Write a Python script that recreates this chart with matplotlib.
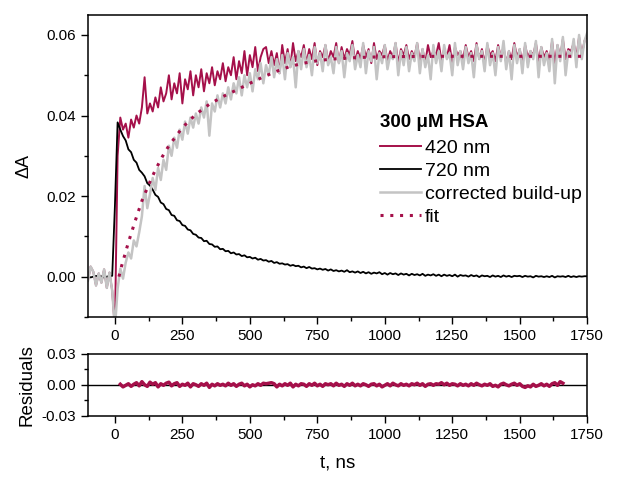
import matplotlib
matplotlib.use("Agg")
import matplotlib.pyplot as plt
from matplotlib.ticker import MultipleLocator
import numpy as np

plt.rcParams['font.family'] = ['Liberation Sans', 'DejaVu Sans']

# sampling grid of the transients (ns)
t_ns = np.arange(-100, 1751, 10)

abs_720 = [
    0.0001, -0.0002, 0.0000, 0.0002, -0.0001, 0.0001, -0.0002, 0.0000, 0.0001, 0.0002,
    0.0175, 0.0383, 0.0365, 0.0349, 0.0338, 0.0316, 0.0309, 0.0290, 0.0283, 0.0265,
    0.0258, 0.0249, 0.0232, 0.0226, 0.0216, 0.0203, 0.0198, 0.0184, 0.0180, 0.0168,
    0.0165, 0.0153, 0.0151, 0.0140, 0.0138, 0.0128, 0.0126, 0.0117, 0.0115, 0.0106,
    0.0104, 0.0097, 0.0096, 0.0088, 0.0089, 0.0081, 0.0080, 0.0074, 0.0075, 0.0068,
    0.0069, 0.0063, 0.0064, 0.0058, 0.0060, 0.0055, 0.0056, 0.0051, 0.0053, 0.0048,
    0.0049, 0.0045, 0.0047, 0.0042, 0.0044, 0.0040, 0.0041, 0.0037, 0.0039, 0.0034,
    0.0036, 0.0032, 0.0033, 0.0030, 0.0031, 0.0027, 0.0029, 0.0026, 0.0027, 0.0023,
    0.0025, 0.0021, 0.0024, 0.0020, 0.0021, 0.0018, 0.0020, 0.0017, 0.0019, 0.0015,
    0.0018, 0.0014, 0.0016, 0.0013, 0.0015, 0.0012, 0.0016, 0.0011, 0.0013, 0.0010,
    0.0013, 0.0009, 0.0012, 0.0008, 0.0011, 0.0007, 0.0010, 0.0008, 0.0011, 0.0006,
    0.0009, 0.0005, 0.0009, 0.0006, 0.0008, 0.0004, 0.0008, 0.0005, 0.0007, 0.0003,
    0.0007, 0.0004, 0.0006, 0.0003, 0.0007, 0.0002, 0.0005, 0.0003, 0.0006, 0.0002,
    0.0005, 0.0001, 0.0005, 0.0002, 0.0004, 0.0001, 0.0005, 0.0000, 0.0004, 0.0002,
    0.0003, 0.0000, 0.0004, 0.0001, 0.0003, -0.0001, 0.0003, 0.0001, 0.0002, -0.0001,
    0.0003, 0.0000, 0.0002, -0.0001, 0.0003, 0.0000, 0.0002, -0.0001, 0.0002, 0.0001,
    0.0002, -0.0001, 0.0002, 0.0000, 0.0001, -0.0002, 0.0002, 0.0000, 0.0001, -0.0001,
    0.0001, -0.0001, 0.0002, -0.0002, 0.0001, 0.0000, 0.0001, -0.0001, 0.0002, -0.0001,
    0.0001, -0.0001, 0.0001, 0.0000, 0.0001, 0.0001,
]

corrected = [
    -0.0010, 0.0025, 0.0012, -0.0022, 0.0008, -0.0015, 0.0018, -0.0028, 0.0010, -0.0035,
    -0.0130, -0.0030, 0.0020, -0.0005, 0.0035, 0.0060, 0.0045, 0.0090, 0.0075, 0.0110,
    0.0150, 0.0225, 0.0170, 0.0205, 0.0245, 0.0215, 0.0270, 0.0240, 0.0290, 0.0265,
    0.0325, 0.0300, 0.0345, 0.0320, 0.0365, 0.0340, 0.0385, 0.0355, 0.0395, 0.0370,
    0.0405, 0.0380, 0.0420, 0.0395, 0.0435, 0.0350, 0.0430, 0.0410, 0.0450, 0.0420,
    0.0455, 0.0430, 0.0470, 0.0440, 0.0480, 0.0455, 0.0495, 0.0450, 0.0500, 0.0470,
    0.0505, 0.0460, 0.0515, 0.0490, 0.0530, 0.0480, 0.0525, 0.0500, 0.0545, 0.0495,
    0.0540, 0.0505, 0.0550, 0.0490, 0.0555, 0.0520, 0.0545, 0.0470, 0.0560, 0.0515,
    0.0565, 0.0520, 0.0550, 0.0500, 0.0570, 0.0530, 0.0555, 0.0510, 0.0575, 0.0525,
    0.0545, 0.0505, 0.0570, 0.0530, 0.0560, 0.0495, 0.0555, 0.0535, 0.0575, 0.0515,
    0.0550, 0.0520, 0.0580, 0.0505, 0.0560, 0.0535, 0.0570, 0.0490, 0.0555, 0.0530,
    0.0575, 0.0515, 0.0550, 0.0540, 0.0580, 0.0500, 0.0560, 0.0525, 0.0570, 0.0510,
    0.0555, 0.0535, 0.0580, 0.0505, 0.0565, 0.0520, 0.0550, 0.0490, 0.0575, 0.0530,
    0.0560, 0.0510, 0.0575, 0.0540, 0.0555, 0.0500, 0.0580, 0.0525, 0.0560, 0.0515,
    0.0570, 0.0530, 0.0555, 0.0495, 0.0575, 0.0540, 0.0560, 0.0510, 0.0580, 0.0525,
    0.0555, 0.0500, 0.0570, 0.0535, 0.0585, 0.0515, 0.0560, 0.0490, 0.0575, 0.0530,
    0.0565, 0.0505, 0.0580, 0.0520, 0.0560, 0.0540, 0.0585, 0.0495, 0.0570, 0.0525,
    0.0555, 0.0510, 0.0590, 0.0480, 0.0575, 0.0535, 0.0595, 0.0500, 0.0560, 0.0545,
    0.0590, 0.0520, 0.0600, 0.0540, 0.0585, 0.0605,
]

abs_420 = [
    -0.0010, 0.0025, 0.0012, -0.0022, 0.0008, -0.0015, 0.0018, -0.0028, 0.0010, -0.0035,
    -0.0130, 0.0300, 0.0395, 0.0365, 0.0380, 0.0345, 0.0390, 0.0370, 0.0400, 0.0380,
    0.0420, 0.0495, 0.0405, 0.0430, 0.0410, 0.0445, 0.0420, 0.0470, 0.0435, 0.0455,
    0.0500, 0.0440, 0.0480, 0.0455, 0.0505, 0.0430, 0.0490, 0.0465, 0.0510, 0.0450,
    0.0500, 0.0470, 0.0515, 0.0460, 0.0505, 0.0480, 0.0520, 0.0475, 0.0510, 0.0490,
    0.0530, 0.0485, 0.0520, 0.0500, 0.0545, 0.0490, 0.0535, 0.0505, 0.0560, 0.0500,
    0.0550, 0.0520, 0.0570, 0.0510, 0.0545, 0.0565, 0.0570, 0.0530, 0.0560, 0.0525,
    0.0555, 0.0505, 0.0575, 0.0530, 0.0565, 0.0520, 0.0580, 0.0535, 0.0560, 0.0545,
    0.0575, 0.0530, 0.0565, 0.0540, 0.0580, 0.0525, 0.0560, 0.0545, 0.0575, 0.0535,
    0.0560, 0.0545, 0.0580, 0.0530, 0.0570, 0.0540, 0.0565, 0.0550, 0.0585, 0.0535,
    0.0560, 0.0540, 0.0575, 0.0545, 0.0565, 0.0530, 0.0580, 0.0540, 0.0560, 0.0550,
    0.0575, 0.0535, 0.0560, 0.0545, 0.0580, 0.0530, 0.0565, 0.0550, 0.0575, 0.0540,
    0.0560, 0.0545, 0.0580, 0.0535, 0.0565, 0.0530, 0.0575, 0.0545, 0.0560, 0.0550,
    0.0580, 0.0535, 0.0565, 0.0545, 0.0575, 0.0530, 0.0570, 0.0550, 0.0560, 0.0540,
    0.0575, 0.0545, 0.0560, 0.0535, 0.0580, 0.0540, 0.0565, 0.0530, 0.0575, 0.0550,
    0.0560, 0.0535, 0.0575, 0.0545, 0.0570, 0.0530, 0.0560, 0.0540, 0.0580, 0.0545,
    0.0565, 0.0530, 0.0575, 0.0545, 0.0560, 0.0550, 0.0580, 0.0535, 0.0570, 0.0545,
    0.0560, 0.0535, 0.0585, 0.0530, 0.0575, 0.0545, 0.0590, 0.0540, 0.0565, 0.0560,
    0.0580, 0.0545, 0.0595, 0.0550, 0.0585, 0.0600,
]

# fitted build-up
fit_t = [15, 25, 50, 75, 100, 125, 150, 175, 200, 250, 300, 350, 400, 450,
         500, 550, 600, 650, 700, 750, 800, 900, 1000, 1200, 1500, 1750]
fit_y = [0.0, 0.0027, 0.0085, 0.0138, 0.0188, 0.0228, 0.0265, 0.0297, 0.0325,
         0.0370, 0.0403, 0.0428, 0.0447, 0.0463, 0.0480, 0.0496, 0.0510, 0.0522,
         0.0530, 0.0536, 0.0540, 0.0544, 0.0546, 0.0547, 0.0547, 0.0547]

# residuals of the fit, 20..1660 ns
res_t = np.arange(20, 1661, 10)
residuals = [
    0.0005, -0.0020, -0.0005, 0.0010, -0.0015, 0.0005, 0.0020, -0.0010,
    0.0030, 0.0000, -0.0015, 0.0025, 0.0005, 0.0020, -0.0020, 0.0010, -0.0005, 0.0015,
    0.0025, -0.0010, 0.0010, 0.0020, -0.0015, 0.0005, -0.0005, 0.0015, -0.0020, 0.0010,
    0.0000, -0.0015, 0.0010, -0.0005, 0.0015, -0.0025, 0.0005, -0.0010, 0.0010, -0.0005,
    0.0005, -0.0010, 0.0015, -0.0005, 0.0010, -0.0015, 0.0005, 0.0015, -0.0010, 0.0005,
    -0.0020, 0.0000, -0.0010, 0.0010, -0.0005, 0.0015, 0.0010, 0.0015, 0.0020, 0.0010,
    -0.0020, 0.0005, -0.0010, 0.0010, -0.0005, 0.0015, -0.0020, 0.0005, -0.0010, 0.0010,
    0.0005, -0.0015, 0.0010, -0.0005, 0.0015, -0.0010, 0.0005, -0.0015, 0.0010, 0.0000,
    0.0010, -0.0010, 0.0015, -0.0005, 0.0005, -0.0015, 0.0010, -0.0005, 0.0015, -0.0010,
    0.0005, -0.0010, 0.0010, 0.0000, -0.0015, 0.0005, 0.0010, -0.0010, 0.0005, -0.0020,
    -0.0005, 0.0010, -0.0010, 0.0015, 0.0000, -0.0010, 0.0010, -0.0005, 0.0005, -0.0010,
    0.0010, 0.0000, 0.0015, -0.0005, 0.0010, -0.0015, 0.0005, 0.0010, -0.0005, 0.0010,
    0.0005, 0.0020, 0.0000, 0.0015, -0.0005, 0.0010, 0.0005, -0.0010, 0.0010, -0.0005,
    0.0005, -0.0010, 0.0010, -0.0005, 0.0015, 0.0000, -0.0010, 0.0005, -0.0005, 0.0010,
    -0.0015, -0.0005, -0.0020, 0.0005, 0.0015, 0.0000, -0.0010, 0.0005, 0.0015, -0.0005,
    0.0010, -0.0015, -0.0025, -0.0010, -0.0020, 0.0005, -0.0015, -0.0005, 0.0010, -0.0010,
    0.0005, -0.0015, 0.0010, 0.0020, -0.0005, 0.0030, 0.0015,
]

crimson = '#a5104a'
gray = '#c4c4c4'

fig = plt.figure(figsize=(6.28, 4.78), dpi=100)
ax = fig.add_axes([0.140, 0.337, 0.795, 0.632])
axr = fig.add_axes([0.140, 0.130, 0.795, 0.130])

ax.plot(t_ns, abs_420, color=crimson, lw=1.4, label='420 nm')
ax.plot(t_ns, abs_720, color='black', lw=1.3, label='720 nm')
ax.plot(t_ns, corrected, color=gray, lw=1.8, label='corrected build-up')
ax.plot(fit_t, fit_y, color=crimson, lw=2.2, ls=(0, (1, 2.2)), label='fit')

ax.set_xlim(-100, 1750)
ax.set_ylim(-0.01, 0.065)
ax.xaxis.set_major_locator(MultipleLocator(250))
ax.xaxis.set_minor_locator(MultipleLocator(125))
ax.yaxis.set_major_locator(MultipleLocator(0.02))
ax.yaxis.set_minor_locator(MultipleLocator(0.01))
ax.yaxis.set_major_formatter(lambda v, p: '%.2f' % v)
ax.set_ylabel('\u0394A', fontsize=13, labelpad=10)

leg = ax.legend(loc='upper left', bbox_to_anchor=(0.585, 0.672), frameon=False,
                title='300 \u03bcM HSA', fontsize=14, handlelength=2.1,
                handletextpad=0.2, labelspacing=0.28, borderaxespad=0,
                borderpad=0)
leg.get_title().set_fontweight('bold')
leg.get_title().set_fontsize(13.5)
leg._legend_box.align = 'left'
leg._legend_box.sep = 6

axr.axhline(0, color='black', lw=1.0)
axr.plot(res_t, residuals, color=crimson, lw=2.5)
axr.set_xlim(-100, 1750)
axr.set_ylim(-0.03, 0.03)
axr.xaxis.set_major_locator(MultipleLocator(250))
axr.xaxis.set_minor_locator(MultipleLocator(125))
axr.yaxis.set_major_locator(MultipleLocator(0.03))
axr.yaxis.set_minor_locator(MultipleLocator(0.015))
axr.yaxis.set_major_formatter(lambda v, p: '%.2f' % v)
axr.set_ylabel('Residuals', fontsize=13.5, labelpad=4)
axr.set_xlabel('t, ns', fontsize=13.5, labelpad=9)

for a in (ax, axr):
    a.tick_params(which='major', direction='out', length=5, width=1, labelsize=11)
    a.tick_params(which='minor', direction='out', length=3, width=1)
    for s in a.spines.values():
        s.set_linewidth(1.1)

fig.savefig('out.png', dpi=100)
